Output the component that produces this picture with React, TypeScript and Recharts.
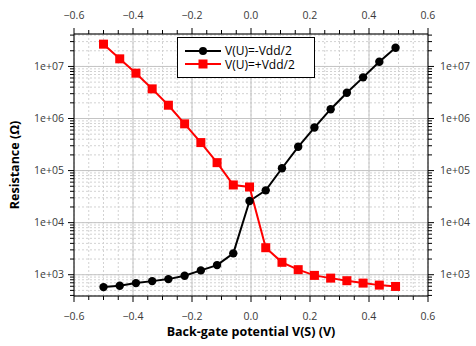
import { LineChart, Line, XAxis, YAxis, CartesianGrid, Legend, Label } from 'recharts'

const xValues = [-0.5, -0.445, -0.39, -0.335, -0.28, -0.225, -0.17, -0.115, -0.06, -0.005, 0.05, 0.105, 0.16, 0.215, 0.27, 0.325, 0.38, 0.435, 0.49]
const rMinus = [578, 614, 690, 753, 823, 957, 1210, 1530, 2570, 26000, 41700, 111000, 286000, 671000, 1.51e6, 3.12e6, 6.17e6, 1.23e7, 2.29e7]
const rPlus = [2.68e7, 1.4e7, 7.43e6, 3.71e6, 1.8e6, 7.9e5, 3.45e5, 1.42e5, 52900, 48400, 3300, 1730, 1250, 970, 860, 767, 690, 631, 595]

const seriesKeys = ['minus', 'plus']
const seriesNames = ['V(U)=-Vdd/2', 'V(U)=+Vdd/2']

const xMajor = [-0.6, -0.4, -0.2, 0, 0.2, 0.4, 0.6]
const xAll = [-0.6, -0.55, -0.5, -0.45, -0.4, -0.35, -0.3, -0.25, -0.2, -0.15, -0.1, -0.05, 0, 0.05, 0.1, 0.15, 0.2, 0.25, 0.3, 0.35, 0.4, 0.45, 0.5, 0.55, 0.6]
const yMajor = [1e3, 1e4, 1e5, 1e6, 1e7]
const yAll = [
  400, 500, 600, 700, 800, 900,
  1e3, 2e3, 3e3, 4e3, 5e3, 6e3, 7e3, 8e3, 9e3,
  1e4, 2e4, 3e4, 4e4, 5e4, 6e4, 7e4, 8e4, 9e4,
  1e5, 2e5, 3e5, 4e5, 5e5, 6e5, 7e5, 8e5, 9e5,
  1e6, 2e6, 3e6, 4e6, 5e6, 6e6, 7e6, 8e6, 9e6,
  1e7, 2e7, 3e7, 4e7,
]

const data = xValues.map((x, i) => ({ x, minus: rMinus[i], plus: rPlus[i] }))

const FONT = "'Open Sans', 'Noto Sans', sans-serif"
const TICK_COLOR = '#3a3a3a'
const X_DOMAIN: [number, number] = [-0.6, 0.6]
const Y_DOMAIN: [number, number] = [390, 4.2e7]

const fmtX = (v: number) => (v < 0 ? '\u2212' : '') + Math.abs(v).toFixed(1)
const fmtY = (v: number) => '1e+' + String(Math.round(Math.log10(v))).padStart(2, '0')

function XTick(props: any) {
  const { x, y, payload, top } = props
  const major = xMajor.includes(payload.value)
  const dir = top ? -1 : 1
  const len = major ? 6 : 4
  return (
    <g>
      <line x1={x} x2={x} y1={y} y2={y + dir * len} stroke="#000" strokeWidth={1} />
      {major && (
        <text x={x} y={top ? y - 15 : y + 24} textAnchor="middle" fontSize={10.5} fontFamily={FONT} fill={TICK_COLOR}>
          {fmtX(payload.value)}
        </text>
      )}
    </g>
  )
}

function YTick(props: any) {
  const { x, y, payload, right } = props
  const major = yMajor.includes(payload.value)
  const dir = right ? 1 : -1
  const len = major ? 6 : 4
  return (
    <g>
      <line x1={x} x2={x + dir * len} y1={y} y2={y} stroke="#000" strokeWidth={1} />
      {major && (
        <text x={right ? x + 12 : x - 10} y={y} dy="0.35em" textAnchor={right ? 'start' : 'end'} fontSize={10.5} fontFamily={FONT} fill={TICK_COLOR}>
          {fmtY(payload.value)}
        </text>
      )}
    </g>
  )
}

const CircleDot = (p: any) => <circle key={p.index} cx={p.cx} cy={p.cy} r={4.2} fill="#000" stroke="none" />
const SquareDot = (p: any) => <rect key={p.index} x={p.cx - 4.5} y={p.cy - 4.5} width={9} height={9} fill="#ff0000" stroke="none" />

function LegendBox({ payload }: any) {
  const entries = [...(payload || [])].sort((a: any, b: any) => seriesKeys.indexOf(a.dataKey) - seriesKeys.indexOf(b.dataKey))
  return (
    <div style={{ border: '1px solid #000', background: '#fff', width: 138, height: 41, boxSizing: 'border-box', paddingTop: 6, fontFamily: FONT, fontSize: 12, color: '#000' }}>
      {entries.map((entry: any) => (
        <div key={entry.dataKey} style={{ display: 'flex', alignItems: 'center', height: 13.5 }}>
          <svg width={47} height={12} style={{ flex: 'none' }}>
            <line x1={7} x2={43} y1={6} y2={6} stroke={entry.color} strokeWidth={2} />
            {entry.dataKey === 'minus' ? <circle cx={25} cy={6} r={4} fill={entry.color} /> : <rect x={20.5} y={1.5} width={9} height={9} fill={entry.color} />}
          </svg>
          <span style={{ lineHeight: '13px', whiteSpace: 'nowrap' }}>{entry.value}</span>
        </div>
      ))}
    </div>
  )
}

export default function App() {
  return (
    <div style={{ position: 'absolute', left: 0, top: 0 }}>
      <LineChart width={476} height={346} data={data} margin={{ top: 4, right: 8, bottom: 20, left: 6 }}>
        <CartesianGrid xAxisId="b" yAxisId="l" stroke="#d2d2d2" strokeDasharray="2 2" />
        <CartesianGrid xAxisId="bm" yAxisId="lm" stroke="#c4c4c4" />
        <XAxis xAxisId="bm" dataKey="x" type="number" domain={X_DOMAIN} ticks={xMajor} interval={0} hide height={0} allowDataOverflow />
        <YAxis yAxisId="lm" scale="log" type="number" domain={Y_DOMAIN} ticks={yMajor} interval={0} hide width={0} allowDataOverflow />
        <XAxis
          xAxisId="b"
          dataKey="x"
          type="number"
          domain={X_DOMAIN}
          ticks={xAll}
          interval={0}
          height={30}
          tickSize={0}
          tickMargin={0}
          tickLine={false}
          axisLine={{ stroke: '#000' }}
          tick={<XTick />}
          allowDataOverflow
        >
          <Label
            content={({ viewBox }: any) => (
              <text x={viewBox.x + viewBox.width / 2} y={viewBox.y + viewBox.height + 10} textAnchor="middle" fontSize={12.5} fontWeight="bold" fontFamily={FONT} fill="#000">
                Back-gate potential V(S) (V)
              </text>
            )}
          />
        </XAxis>
        <XAxis
          xAxisId="t"
          dataKey="x"
          type="number"
          orientation="top"
          domain={X_DOMAIN}
          ticks={xAll}
          interval={0}
          height={30}
          tickSize={0}
          tickMargin={0}
          tickLine={false}
          axisLine={{ stroke: '#000' }}
          tick={<XTick top />}
          allowDataOverflow
        />
        <YAxis
          yAxisId="l"
          scale="log"
          type="number"
          domain={Y_DOMAIN}
          ticks={yAll}
          interval={0}
          width={68}
          tickSize={0}
          tickMargin={0}
          tickLine={false}
          axisLine={{ stroke: '#000' }}
          tick={<YTick />}
          allowDataOverflow
        >
          <Label
            content={({ viewBox }: any) => (
              <text
                x={viewBox.x + 8}
                y={viewBox.y + viewBox.height / 2}
                transform={`rotate(-90 ${viewBox.x + 8} ${viewBox.y + viewBox.height / 2})`}
                textAnchor="middle"
                dominantBaseline="central"
                fontSize={12.5}
                fontWeight="bold"
                fontFamily={FONT}
                fill="#000"
              >
                Resistance (Ω)
              </text>
            )}
          />
        </YAxis>
        <YAxis
          yAxisId="r"
          orientation="right"
          scale="log"
          type="number"
          domain={Y_DOMAIN}
          ticks={yAll}
          interval={0}
          width={40}
          tickSize={0}
          tickMargin={0}
          tickLine={false}
          axisLine={{ stroke: '#000' }}
          tick={<YTick right />}
          allowDataOverflow
        />
        <Legend
          layout="vertical"
          align="center"
          verticalAlign="middle"
          wrapperStyle={{ left: 177, top: 37, width: 138 }}
          content={<LegendBox />}
        />
        <Line
          xAxisId="b"
          yAxisId="l"
          type="linear"
          dataKey="minus"
          name={seriesNames[0]}
          stroke="#000000"
          strokeWidth={2}
          dot={CircleDot}
          activeDot={false}
          isAnimationActive={false}
        />
        <Line
          xAxisId="b"
          yAxisId="l"
          type="linear"
          dataKey="plus"
          name={seriesNames[1]}
          stroke="#ff0000"
          strokeWidth={2}
          dot={SquareDot}
          activeDot={false}
          isAnimationActive={false}
        />
      </LineChart>
    </div>
  )
}
